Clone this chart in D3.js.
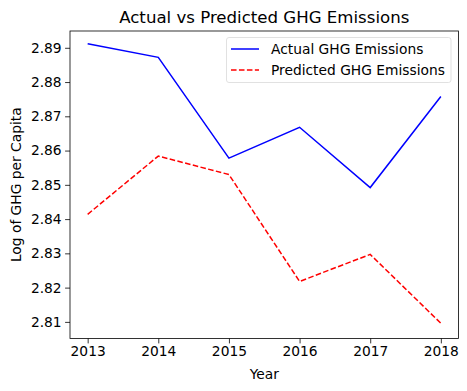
<!DOCTYPE html>
<html><head><meta charset="utf-8">
<script src="https://cdn.jsdelivr.net/npm/d3@7"></script>
<style>body{margin:0;background:#fff;} text{font-family:"DejaVu Sans",sans-serif;}</style>
</head><body>
<svg id="c" width="467" height="391"></svg>
<script>
const years = [2013, 2014, 2015, 2016, 2017, 2018];
const actual = [2.8912, 2.8872, 2.8578, 2.8668, 2.8492, 2.8758];
const predicted = [2.8414, 2.8584, 2.8530, 2.8218, 2.8297, 2.8096];
const yTicks = [2.81, 2.82, 2.83, 2.84, 2.85, 2.86, 2.87, 2.88, 2.89];
const seriesNames = ["Actual GHG Emissions", "Predicted GHG Emissions"];

const svg = d3.select("#c");
const L = 70, R = 458.5, T = 31, B = 338.5;
const FS = 13.8;
const x = d3.scaleLinear().domain([2012.75, 2018.25]).range([L, R]);
const y = d3.scaleLinear().domain([2.80515, 2.8949]).range([B, T]);

const xAxis = svg.append("g").attr("transform", `translate(0,${B})`)
  .call(d3.axisBottom(x).tickValues(years).tickFormat(d3.format("d")).tickSize(4.9).tickPadding(3.3));
const yAxis = svg.append("g").attr("transform", `translate(${L},0)`)
  .call(d3.axisLeft(y).tickValues(yTicks).tickFormat(d3.format(".2f")).tickSize(4.9).tickPadding(3.5));
[xAxis, yAxis].forEach(a => {
  a.selectAll("text").attr("font-size", FS).attr("fill", "#000").style("font-family", "DejaVu Sans");
  a.selectAll("line").attr("stroke", "#000").attr("stroke-width", 0.8);
  a.select(".domain").remove();
});
svg.append("rect").attr("x", L).attr("y", T).attr("width", R - L).attr("height", B - T)
  .attr("fill", "none").attr("stroke", "#000").attr("stroke-width", 0.8);

const line = d3.line().x((d, i) => x(years[i])).y(d => y(d));
svg.append("path").datum(actual).attr("d", line).attr("fill", "none")
  .attr("stroke", "#0000ff").attr("stroke-width", 1.5);
svg.append("path").datum(predicted).attr("d", line).attr("fill", "none")
  .attr("stroke", "#ff0000").attr("stroke-width", 1.5).attr("stroke-dasharray", "5.55,2.4");

svg.append("text").attr("x", (L + R) / 2).attr("y", 22.5).attr("text-anchor", "middle")
  .attr("font-size", 16.6).text("Actual vs Predicted GHG Emissions");
svg.append("text").attr("x", (L + R) / 2).attr("y", 379).attr("text-anchor", "middle")
  .attr("font-size", FS).text("Year");
svg.append("text").attr("transform", `translate(21,${(T + B) / 2}) rotate(-90)`)
  .attr("text-anchor", "middle").attr("font-size", FS).text("Log of GHG per Capita");

// legend
const lg = svg.append("g");
lg.append("rect").attr("x", 226.5).attr("y", 37.5).attr("width", 224.5).attr("height", 45)
  .attr("rx", 2.5).attr("fill", "#fff").attr("fill-opacity", 0.8).attr("stroke", "#d9d9d9").attr("stroke-width", 0.8);
const colors = ["#0000ff", "#ff0000"];
const dashes = [null, "5.55,2.4"];
seriesNames.forEach((n, i) => {
  const cy = 49 + i * 21;
  lg.append("line").attr("x1", 231).attr("x2", 259).attr("y1", cy).attr("y2", cy)
    .attr("stroke", colors[i]).attr("stroke-width", 1.5).attr("stroke-dasharray", dashes[i]);
  lg.append("text").attr("x", 271).attr("y", cy + 5).attr("font-size", FS).text(n);
});
</script>
</body></html>
